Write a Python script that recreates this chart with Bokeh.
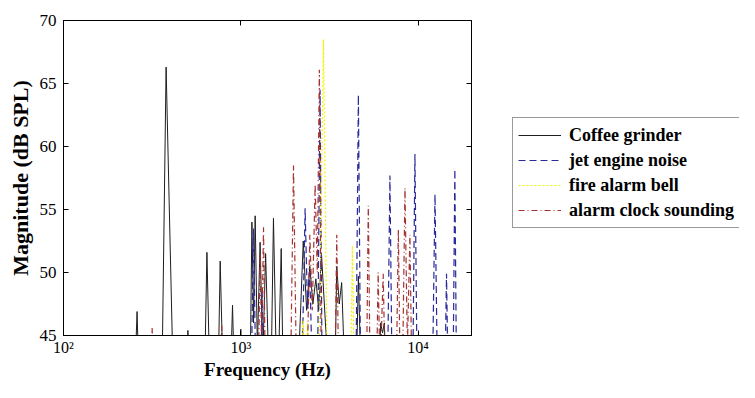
from bokeh.plotting import figure
from bokeh.layouts import row
from bokeh.models import LogAxis, LinearAxis, FixedTicker, Legend, LegendItem, Range1d
from bokeh.embed import file_html
from bokeh.resources import INLINE

# ---- data (40 = below the visible floor) ----
grinder_freq = [100, 250, 260, 268, 358, 379, 418, 495, 503, 511, 622, 644, 672,
                742, 765, 800, 868, 898, 925, 990, 1000, 1010,
                1125, 1155, 1180, 1205, 1240, 1285, 1330, 1380, 1440, 1490, 1528, 1590, 1640, 1690, 1740,
                2080, 2250, 2350, 2450, 2550, 2650, 2750, 2850, 3000, 3200,
                3380, 3476, 3590, 3705, 3900, 4450, 4603, 4800,
                5950, 6150, 6300, 6450, 6650, 20000]
grinder_mag = [40, 40, 46.9, 40, 40, 66.3, 40, 40, 45.4, 40, 40, 51.6, 40,
               40, 50.9, 40, 40, 47.4, 40, 40, 45.5, 40,
               40, 54.0, 46, 54.5, 44, 52.4, 43, 51.5, 42, 44, 54.3, 42, 44, 51.9, 40,
               40, 52.5, 47, 50.5, 47.5, 49.5, 47, 51.5, 46, 40,
               40, 50.5, 47.5, 49.2, 40, 40, 49.7, 40,
               40, 46, 45.2, 46, 40, 40]

jet_freq = [100, 1140, 1180, 1220, 1290, 1320, 1350,
            2200, 2305, 2380, 2450, 2550, 2700, 2799, 2880,
            4450, 4603, 4750, 6700, 6935, 7150, 9300, 9594, 9900,
            12000, 12450, 12900, 14100, 14460, 14800, 15700, 16110, 16500, 20000]
jet_mag = [40, 40, 53.5, 40, 40, 48.5, 40,
           40, 55.1, 47, 50, 40, 40, 64.5, 40,
           40, 64.1, 40, 40, 57.7, 40, 40, 59.4, 40,
           40, 56.2, 40, 40, 49.9, 40, 40, 58.2, 40, 40]

bell_freq = [100, 2150, 2250, 2330, 2380, 2450, 2750, 2926, 3080, 4150, 4258, 4380, 20000]
bell_mag = [40, 40, 46.2, 40, 46, 40, 40, 68.5, 40, 40, 52.1, 40, 40]

clock_freq = [100, 305, 316, 327, 760, 780, 800,
              1250, 1285, 1310, 1343, 1380, 1900, 1982, 2070,
              2350, 2450, 2530, 2625, 2700, 2773, 2850,
              3380, 3476, 3580, 5100, 5236, 5380,
              5800, 5950, 6100, 6355, 6550,
              7500, 7735, 7950, 8200, 8430, 8700, 8990, 9250, 20000]
clock_mag = [40, 40, 45.6, 40, 40, 45.8, 40,
             40, 51.5, 44, 53.6, 40, 40, 58.5, 40,
             40, 53, 47, 57, 50, 66.1, 40,
             40, 53, 40, 40, 55.3, 40,
             40, 50, 42, 49.9, 40,
             40, 53.4, 40, 44, 56.7, 44, 53, 40, 40]

series_names = ["Coffee grinder", "jet engine noise", "fire alarm bell", "alarm clock sounding"]
x_ticks = [100, 1000, 10000]
x_tick_labels = ["10\u00b2", "10\u00b3", "10\u2074"]
y_ticks = [45, 50, 55, 60, 65, 70]

SERIF = "Liberation Serif"
STYLES = [dict(line_color="#1e1e1e", line_width=1),
          dict(line_color="#2a2a9a", line_width=1.2, line_dash="7 4"),
          dict(line_color="#f2f200", line_width=1.2, line_dash="2 2"),
          dict(line_color="#a53030", line_width=1.2, line_dash="6 3 1 3")]

p = figure(width=474, height=382, x_axis_type="log", x_range=(100, 20000), y_range=(45, 70),
           output_backend="svg", toolbar_location=None,
           min_border_left=63, min_border_right=3, min_border_top=20, min_border_bottom=44)
p.grid.visible = False
p.outline_line_color = "black"
p.background_fill_color = "white"
p.border_fill_color = "white"

series = [(grinder_freq, grinder_mag), (jet_freq, jet_mag), (bell_freq, bell_mag), (clock_freq, clock_mag)]
for (fx, my), st in zip(series, STYLES):
    p.line(fx, my, **st)


def style_axis(ax, show_labels, ticks):
    ax.axis_line_color = "black"
    ax.major_tick_line_color = "black"
    ax.major_tick_in = 5
    ax.major_tick_out = 0
    ax.minor_tick_line_color = None
    ax.major_label_text_font = SERIF
    ax.major_label_text_color = "black"
    if show_labels:
        ax.major_label_text_font_size = "17px"
        ax.major_label_standoff = 6
    else:
        ax.major_label_overrides = {t: " " for t in ticks}
        ax.major_label_text_font_size = "2px"
        ax.major_label_text_alpha = 0
        ax.major_label_standoff = 0


xa = p.xaxis[0]
xa.ticker = FixedTicker(ticks=x_ticks)
style_axis(xa, True, x_ticks)
xa.major_label_text_font_size = "16px"
xa.major_label_standoff = 3
xa.major_label_overrides = {t: s for t, s in zip(x_ticks, x_tick_labels)}
xa.axis_label = "Frequency (Hz)"
xa.axis_label_text_font = SERIF
xa.axis_label_text_font_style = "bold"
xa.axis_label_text_font_size = "19px"
xa.axis_label_text_color = "black"
xa.axis_label_standoff = 0

ya = p.yaxis[0]
ya.ticker = FixedTicker(ticks=y_ticks)
style_axis(ya, True, y_ticks)
ya.major_label_standoff = 7
ya.axis_label = "Magnitude (dB SPL)"
ya.axis_label_text_font = SERIF
ya.axis_label_text_font_style = "bold"
ya.axis_label_text_font_size = "22px"
ya.axis_label_text_color = "black"
ya.axis_label_standoff = 4

top = LogAxis(ticker=FixedTicker(ticks=x_ticks))
style_axis(top, False, x_ticks)
p.add_layout(top, "above")
right = LinearAxis(ticker=FixedTicker(ticks=y_ticks))
style_axis(right, False, y_ticks)
p.add_layout(right, "right")

# legend panel (second figure, no axes); each legend line holds one point only
p2 = figure(width=265, height=382, output_backend="svg", toolbar_location=None,
            x_axis_location=None, y_axis_location=None, min_border=0,
            x_range=Range1d(0, 1), y_range=Range1d(0, 1))
p2.grid.visible = False
p2.outline_line_color = None
p2.border_fill_color = "white"
p2.background_fill_color = "white"
legend_renderers = [p2.line(fx[:1], my[:1], **st) for (fx, my), st in zip(series, STYLES)]

legend = Legend(items=[LegendItem(label=n, renderers=[r]) for n, r in zip(series_names, legend_renderers)],
                location=(38, 107), padding=5, spacing=1, glyph_width=43, glyph_height=24,
                label_height=24, label_standoff=8, margin=0,
                label_text_font=SERIF, label_text_font_style="bold", label_text_font_size="18px",
                label_text_color="black", border_line_color="#333333", border_line_width=1,
                background_fill_color="white", background_fill_alpha=1.0)
p2.add_layout(legend, "center")

layout = row(p, p2, spacing=0)
open("out.html", "w").write(file_html(layout, INLINE))
